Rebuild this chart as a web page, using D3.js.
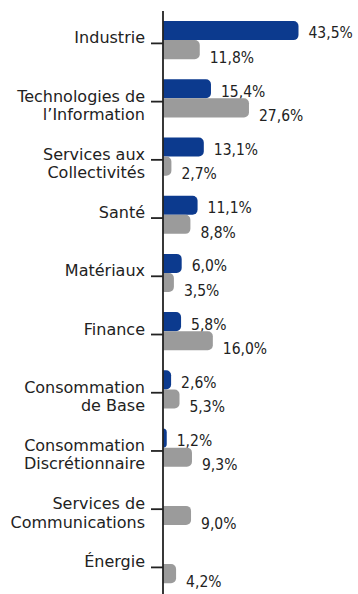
<!DOCTYPE html>
<html>
<head>
<meta charset="utf-8">
<script src="https://cdn.jsdelivr.net/npm/d3@7"></script>
<style>
  html, body { margin: 0; padding: 0; background: #fff; }
  svg { display: block; }
  text { font-family: "DejaVu Sans", sans-serif; fill: #222; }
  .val { font-family: "DejaVu Sans Condensed", "DejaVu Sans", sans-serif; }
</style>
</head>
<body>
<svg id="chart" width="358" height="594"></svg>
<script>
// Sector weights (%) — fund vs. benchmark index
const categories = [
  "Industrie",
  "Technologies de\nl’Information",
  "Services aux\nCollectivités",
  "Santé",
  "Matériaux",
  "Finance",
  "Consommation\nde Base",
  "Consommation\nDiscrétionnaire",
  "Services de\nCommunications",
  "Énergie"
];
const fundValues  = [43.5, 15.4, 13.1, 11.1, 6.0, 5.8, 2.6, 1.2, null, null];
const indexValues = [11.8, 27.6, 2.7, 8.8, 3.5, 16.0, 5.3, 9.3, 9.0, 4.2];
const seriesKeys = ["fund", "index"];
const seriesColors = { fund: "#0c3a8e", index: "#9b9b9b" };

const svg = d3.select("#chart");
const fmt = v => d3.format(".1f")(v).replace(".", ",") + "%";

const axisX = 163;
const x = d3.scaleLinear().domain([0, 43.5]).range([axisX, 298.5]);
const y = d3.scaleBand().domain(categories).range([21, 583.2]).paddingInner(0.344).paddingOuter(0);
const ySub = d3.scaleBand().domain(seriesKeys).range([0, y.bandwidth()]);

const rows = categories.map((c, i) => ({ cat: c, fund: fundValues[i], index: indexValues[i] }));

// bar with rounded right-hand corners
function barPath(x0, y0, w, h, r) {
  r = Math.min(r, w, h / 2);
  return `M${x0},${y0}H${x0 + w - r}A${r},${r} 0 0 1 ${x0 + w},${y0 + r}` +
         `V${y0 + h - r}A${r},${r} 0 0 1 ${x0 + w - r},${y0 + h}H${x0}Z`;
}

const groups = svg.append("g").selectAll("g")
  .data(rows).join("g")
  .attr("transform", d => `translate(0,${y(d.cat)})`);

seriesKeys.forEach(k => {
  const withVal = groups.filter(d => d[k] != null && d[k] > 0);
  withVal.append("path")
    .attr("fill", seriesColors[k])
    .attr("d", d => barPath(x(0), ySub(k), x(d[k]) - x(0), ySub.bandwidth(), 5));
  withVal.append("text")
    .attr("class", "val")
    .attr("x", d => x(d[k]) + 10)
    .attr("y", ySub(k) + ySub.bandwidth() + (k === "fund" ? -1.6 : 3.7))
    .attr("font-size", 15.5)
    .text(d => fmt(d[k]));
});

// category axis
const axis = d3.axisLeft(y).tickSize(12).tickPadding(6);
const gAxis = svg.append("g")
  .attr("transform", `translate(${axisX},3.3)`)
  .call(axis);
gAxis.select(".domain").remove();
gAxis.selectAll(".tick line").attr("stroke", "#222").attr("stroke-width", 1.8);
gAxis.selectAll(".tick text")
  .attr("font-size", 16)
  .attr("fill", "#222")
  .attr("dy", null)
  .style("font-family", "'DejaVu Sans', sans-serif")
  .each(function(d) {
    const t = d3.select(this);
    const lines = d.split("\n");
    t.text(null);
    lines.forEach((ln, i) => {
      t.append("tspan").attr("x", -18).attr("y", i * 18.5).text(ln);
    });
  });

svg.append("line")
  .attr("x1", axisX).attr("x2", axisX)
  .attr("y1", 11).attr("y2", 594)
  .attr("stroke", "#222").attr("stroke-width", 1.8);
</script>
</body>
</html>
